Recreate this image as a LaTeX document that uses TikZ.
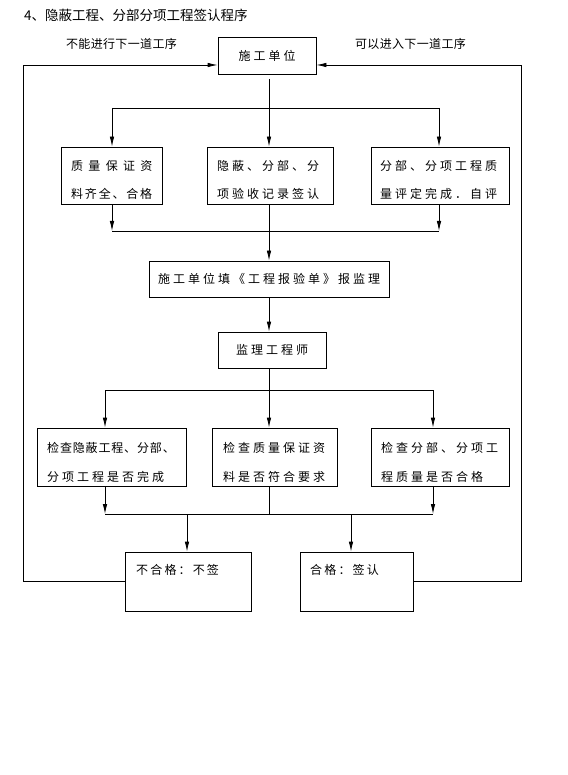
\documentclass[tikz,border=0pt]{standalone}
\usepackage{fontspec}
\setmainfont{Noto Sans CJK SC}
\newfontfamily\boxfont{Noto Sans CJK SC}[LetterSpace=25]
\newfontfamily\notefont{Noto Sans CJK SC}[LetterSpace=3]
\usetikzlibrary{arrows.meta,calc}

\tikzset{
	box/.style={draw, line width=0.8pt, inner sep=0pt, font=\boxfont\fontsize{12}{14}\selectfont},
	txt/.style={anchor=west, inner sep=0pt, align=left, font=\boxfont\fontsize{12}{28.5}\selectfont},
	note/.style={inner sep=0pt, font=\notefont\fontsize{12}{14}\selectfont},
	link/.style={line width=0.8pt},
	arr/.style={line width=0.8pt, -{Latex[length=10pt,width=4.5pt]}}
}

\begin{document}
\begin{tikzpicture}[x=1pt, y=-1pt]
	\useasboundingbox (0,0) rectangle (567,775);
	\node[anchor=west, inner sep=0pt, font=\fontsize{13.5}{16}\selectfont] (title) at (24,15) {4、隐蔽工程、分部分项工程签认程序};

	% top
	\node[box, minimum width=98, minimum height=37] (sg) at (267,55.5) {施工单位};
	\node[note] (bn) at (121.5,44) {不能进行下一道工序};
	\node[note] (kn) at (410.5,44) {可以进入下一道工序};

	% first row
	\node[box, minimum width=101, minimum height=57] (zl) at (111.5,175.5) {};
	\node[txt] (zlt) at (71,180) {{\addfontfeature{LetterSpace=44}质量保证资}\\{\addfontfeature{LetterSpace=15}料齐全、合格}};
	\node[box, minimum width=126, minimum height=57] (yb) at (270,175.5) {};
	\node[txt] (ybt) at (217,180) {隐蔽、分部、分\\项验收记录签认};
	\node[box, minimum width=138, minimum height=57] (fb) at (440,175.5) {};
	\node[txt] (fbt) at (380,180) {分部、分项工程质\\量评定完成．自评};

	% middle
	\node[box, minimum width=240, minimum height=36] (bg) at (269,279) {施工单位填《工程报验单》报监理};
	\node[box, minimum width=108, minimum height=36] (jl) at (272,350) {监理工程师};

	% checks
	\node[box, minimum width=149, minimum height=58] (jc1) at (111.5,457) {};
	\node[txt] (jc1t) at (47,462.5) {{\addfontfeature{LetterSpace=7}检查隐蔽工程、分部、}\\分项工程是否完成};
	\node[box, minimum width=125, minimum height=58] (jc2) at (274.5,457) {};
	\node[txt] (jc2t) at (223,462.5) {检查质量保证资\\料是否符合要求};
	\node[box, minimum width=138, minimum height=58] (jc3) at (440,457) {};
	\node[txt] (jc3t) at (381,462.5) {检查分部、分项工\\程质量是否合格};

	% result
	\node[box, minimum width=126, minimum height=59] (bhg) at (188,581.5) {};
	\node[txt] (bhgt) at (136,570) {{\addfontfeature{LetterSpace=18}不合格：不签}};
	\node[box, minimum width=113, minimum height=59] (hg) at (356.5,581.5) {};
	\node[txt] (hgt) at (310,570) {{\addfontfeature{LetterSpace=18}合格：签认}};

	% junctions
	\coordinate (t0) at (269,79);
	\coordinate (sL) at (112,108);
	\coordinate (s1) at (269,108);
	\coordinate (sR) at (439,108);
	\coordinate (m1) at (269,231);
	\coordinate (dL) at (105,390);
	\coordinate (d1) at (269,390);
	\coordinate (dR) at (433,390);
	\coordinate (eL) at (105,514);
	\coordinate (e1) at (269,514);
	\coordinate (eR) at (433,514);
	\coordinate (fL) at (187,514);
	\coordinate (fR) at (351,514);
	\coordinate (lb) at (23,581.5);
	\coordinate (lt) at (23,65);
	\coordinate (rb) at (521,581.5);
	\coordinate (rt) at (521,65);

	\draw[link] (t0) -- (s1);
	\draw[link] (sL) -- (sR);
	\foreach \c/\n in {sL/zl, s1/yb, sR/fb}
		\draw[arr] (\c) -- (\c |- \n.north);
	\draw[arr] (sL |- zl.south) -- (sL |- m1);
	\draw[arr] (sR |- fb.south) -- (sR |- m1);
	\draw[link] (sL |- m1) -- (sR |- m1);
	\draw[arr] (m1 |- yb.south) -- (m1 |- bg.north);
	\draw[arr] (m1 |- bg.south) -- (m1 |- jl.north);

	\draw[link] (m1 |- jl.south) -- (d1);
	\draw[link] (dL) -- (dR);
	\foreach \c/\n in {dL/jc1, d1/jc2, dR/jc3}
		\draw[arr] (\c) -- (\c |- \n.north);
	\draw[arr] (dL |- jc1.south) -- (eL);
	\draw[arr] (dR |- jc3.south) -- (eR);
	\draw[link] (d1 |- jc2.south) -- (e1);
	\draw[link] (eL) -- (eR);
	\draw[arr] (fL) -- (fL |- bhg.north);
	\draw[arr] (fR) -- (fR |- hg.north);

	% back to the contractor
	\draw[arr] (bhg.west) -- (lb) -- (lt) -- (lt -| sg.west);
	\draw[arr] (hg.east) -- (rb) -- (rt) -- (rt -| sg.east);
\end{tikzpicture}
\end{document}
